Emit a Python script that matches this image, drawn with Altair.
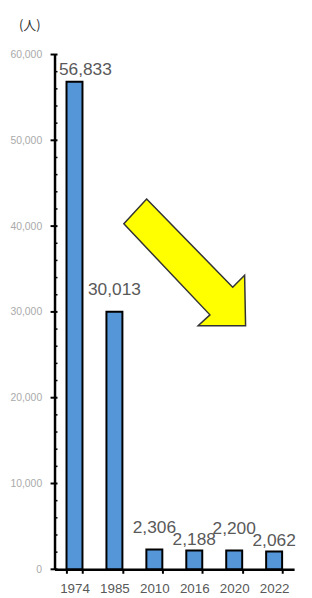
import altair as alt
import pandas as pd

years = ["1974", "1985", "2010", "2016", "2020", "2022"]
values = [56833, 30013, 2306, 2188, 2200, 2062]
labels = ["56,833", "30,013", "2,306", "2,188", "2,200", "2,062"]
high_label_years = ["1985", "2010", "2020"]
low_label_years = ["2016", "2022"]
shifted_label_years = ["1974"]
y_ticks = [0, 10000, 20000, 30000, 40000, 50000, 60000]
y_minor = [v for v in range(2000, 60000, 2000) if v % 10000 != 0]
unit_text = "(人)"

df = pd.DataFrame({"year": years, "value": values, "label": labels})
major_df = pd.DataFrame({"value": y_ticks})
minor_df = pd.DataFrame({"value": y_minor})
one = pd.DataFrame({"a": [0]})

FONT = "Liberation Sans"

xscale = alt.Scale(domain=years, paddingInner=0.6, paddingOuter=0.3)
yscale = alt.Scale(domain=[0, 60000], nice=False)

x_axis = alt.Axis(title=None, labelAngle=0, domainColor="black", domainWidth=2.5,
                  tickBand="extent", tickSize=4, tickColor="black", tickWidth=2,
                  labelFont=FONT, labelFontSize=13.5, labelColor="#595959",
                  labelPadding=8)
y_axis = alt.Axis(title=None, values=y_ticks, format=",d", grid=False, ticks=False,
                  domainColor="black", domainWidth=2.5,
                  labelFont=FONT, labelFontSize=10.5, labelColor="#aaaaaa",
                  labelPadding=13)

def X():
    return alt.X("year:N", scale=xscale, sort=years, axis=x_axis)

def Y():
    return alt.Y("value:Q", scale=yscale, axis=y_axis)

bars = alt.Chart(df).mark_bar(fill="#5596d8", stroke="black", strokeWidth=2).encode(
    x=X(), y=Y())

def text_layer(sel, dy, dx=0):
    return alt.Chart(df).transform_filter(
        alt.FieldOneOfPredicate(field="year", oneOf=sel)
    ).mark_text(font=FONT, fontSize=17.5, color="#595959", dy=dy, dx=dx).encode(
        x=X(), y=Y(), text="label:N")

t_high = text_layer(high_label_years, -22)
t_low = text_layer(low_label_years, -11)
t_shift = text_layer(shifted_label_years, -12, 11)

major = alt.Chart(major_df).mark_rule(color="black", strokeWidth=2).encode(
    y=Y(), x=alt.value(-4), x2=alt.value(3))
minor = alt.Chart(minor_df).mark_rule(color="black", strokeWidth=1.5).encode(
    y=Y(), x=alt.value(0), x2=alt.value(3))

arrow_path = ("M -0.592 -0.985 L 0.746 0.385 L 0.931 0.2 L 0.946 0.985 "
              "L 0.208 0.985 L 0.392 0.815 L -0.946 -0.6 Z")
arrow = alt.Chart(one).mark_point(shape=arrow_path, filled=True, fill="#ffff00", fillOpacity=1,
                                  stroke="#333333", strokeWidth=1.5, size=16900, opacity=1).encode(
    x=alt.value(131.5), y=alt.value(210))

unit = alt.Chart(one).mark_text(font="Noto Sans CJK JP", fontSize=13, color="#333333").encode(
    x=alt.value(-25), y=alt.value(-29), text=alt.value(unit_text))

chart = alt.layer(bars, t_high, t_low, t_shift, minor, major, arrow, unit).properties(
    width=242, height=520,
    autosize=alt.AutoSizeParams(type="none"),
    padding={"left": 47, "top": 44, "right": 10, "bottom": 26},
).configure_view(stroke=None)

chart.save("out.html", embed_options={"renderer": "svg", "actions": False})
